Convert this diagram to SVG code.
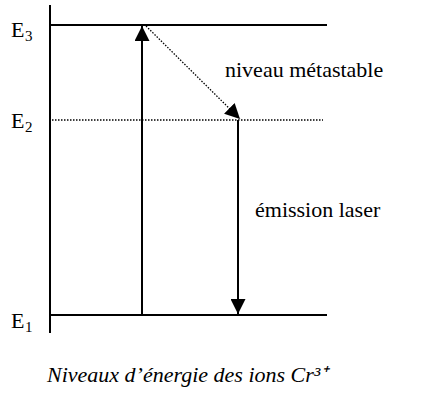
<svg xmlns="http://www.w3.org/2000/svg" width="429" height="394" viewBox="0 0 429 394">
<defs>
<marker id="ah" viewBox="0 0 10 10" refX="10" refY="5" markerWidth="15" markerHeight="15" markerUnits="userSpaceOnUse" orient="auto">
<path d="M0,0 L10,5 L0,10 z" fill="#000"/>
</marker>
</defs>
<g id="axis"><line stroke="#000" stroke-width="2" x1="50" y1="5" x2="50" y2="333"/></g>
<g id="E3"><line stroke="#000" stroke-width="2" x1="50" y1="25" x2="327" y2="25"/><text x="11" y="37" font-size="22" font-family="'Liberation Serif'">E</text><text x="25" y="41" font-size="15" font-family="'Liberation Serif'">3</text></g>
<g id="E2"><line stroke="#000" stroke-width="1.3" stroke-dasharray="1.5 1.5" x1="52" y1="120" x2="323" y2="120"/><text x="11" y="128" font-size="22" font-family="'Liberation Serif'">E</text><text x="25" y="132" font-size="15" font-family="'Liberation Serif'">2</text></g>
<g id="E1"><line stroke="#000" stroke-width="2" x1="50" y1="315" x2="327" y2="315"/><text x="11" y="328" font-size="22" font-family="'Liberation Serif'">E</text><text x="25" y="332" font-size="15" font-family="'Liberation Serif'">1</text></g>
<g id="connectors">
<line stroke="#000" stroke-width="2" x1="142" y1="315" x2="142" y2="26" marker-end="url(#ah)"/>
<line stroke="#000" stroke-width="1.3" stroke-dasharray="1.5 1.5" x1="146" y1="26" x2="240" y2="119" marker-end="url(#ah)"/>
<line stroke="#000" stroke-width="2" x1="238" y1="120" x2="238" y2="314" marker-end="url(#ah)"/>
</g>
<text x="225" y="77" font-size="22" font-family="'Liberation Serif'">niveau métastable</text>
<text x="255" y="217" font-size="22" font-family="'Liberation Serif'">émission laser</text>
<text x="47" y="382" font-size="22" font-style="italic" font-family="'Liberation Serif'">Niveaux d’énergie des ions Cr³⁺</text>
</svg>
